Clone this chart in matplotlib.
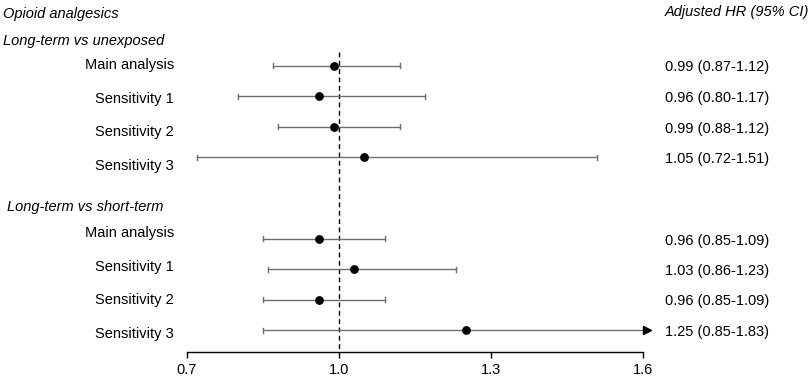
import matplotlib
matplotlib.use('Agg')
import matplotlib.pyplot as plt
import matplotlib.transforms as mtransforms
import numpy as np

plt.rcParams['font.family'] = ['Liberation Sans', 'DejaVu Sans']

# data ------------------------------------------------------------------ #
title_left  = 'Opioid analgesics'
title_right = 'Adjusted HR (95% CI)'
groups      = ['Long-term vs unexposed', 'Long-term vs short-term']
row_labels  = ['Main analysis', 'Sensitivity 1', 'Sensitivity 2', 'Sensitivity 3']

hr_unexp  = [0.99, 0.96, 0.99, 1.05]
lo_unexp  = [0.87, 0.80, 0.88, 0.72]
hi_unexp  = [1.12, 1.17, 1.12, 1.51]

hr_short  = [0.96, 1.03, 0.96, 1.25]
lo_short  = [0.85, 0.86, 0.85, 0.85]
hi_short  = [1.09, 1.23, 1.09, 1.83]

x_ticks = [0.7, 1.0, 1.3, 1.6]

# layout ---------------------------------------------------------------- #
W, H = 809, 378
fig = plt.figure(figsize=(W / 100, H / 100), dpi=100)

ax_left, ax_right, ax_bottom = 187, 643, 352
ax = fig.add_axes([ax_left / W, (H - ax_bottom) / H, (ax_right - ax_left) / W, ax_bottom / H])
ax.set_xlim(x_ticks[0], x_ticks[-1])
ax.set_ylim(ax_bottom, 0)  # y in pixels from top


def fx(px):
    return px / W


def fy(py):
    return 1 - py / H


step = 30.5             # spacing of the CI rows
label_step = 33.6       # spacing of the row labels on the left
group_start = [65.5, 238.5]
label_start = [65, 233]
group_head  = [41, 207]
hr_data = [(hr_unexp, lo_unexp, hi_unexp), (hr_short, lo_short, hi_short)]

line_col = '#6e6e6e'
fs = 10.5
xmax = x_ticks[-1]

# reference line
ax.plot([1.0, 1.0], [52, ax_bottom], color='black', lw=1.0, ls=(0, (3.5, 2.5)), zorder=1)

arrow_tr = ax.transData + mtransforms.ScaledTranslation(3.5 / 100, 0, fig.dpi_scale_trans)

for g, (hr, lo, hi) in enumerate(hr_data):
    fig.text(fx(3 if g == 0 else 7), fy(group_head[g]), groups[g], style='italic',
             fontsize=fs, ha='left', va='center')
    for i in range(len(hr)):
        y = group_start[g] + i * step
        right = min(hi[i], xmax)
        ax.plot([lo[i], right], [y, y], color=line_col, lw=1.0, zorder=2, clip_on=False)
        ax.plot([lo[i], lo[i]], [y - 2.5, y + 2.5], color=line_col, lw=1.0, zorder=2)
        if hi[i] <= xmax:
            ax.plot([hi[i], hi[i]], [y - 2.5, y + 2.5], color=line_col, lw=1.0, zorder=2)
        else:
            ax.plot([xmax], [y], marker='>', color='black', markersize=6,
                    transform=arrow_tr, clip_on=False, zorder=3)
        ax.plot([hr[i]], [y], 'o', color='black', markersize=5.3, zorder=4)
        fig.text(fx(174), fy(label_start[g] + i * label_step), row_labels[i],
                 fontsize=fs, ha='right', va='center')
        fig.text(fx(665), fy(y + 2), '{:.2f} ({:.2f}-{:.2f})'.format(hr[i], lo[i], hi[i]),
                 fontsize=fs, ha='left', va='center')

fig.text(fx(3), fy(14), title_left, style='italic', fontsize=fs, ha='left', va='center')
fig.text(fx(665), fy(12), title_right, style='italic', fontsize=fs, ha='left', va='center')

# axis
for side in ['left', 'right', 'top']:
    ax.spines[side].set_visible(False)
ax.spines['bottom'].set_bounds(x_ticks[0], x_ticks[-1])
ax.spines['bottom'].set_linewidth(1.0)
ax.set_xticks(x_ticks)
ax.set_xticklabels(['{:.1f}'.format(t) for t in x_ticks])
ax.tick_params(axis='x', length=4, width=1.0, pad=4, labelsize=fs)
ax.set_yticks([])
ax.patch.set_visible(False)

plt.savefig('out.png', dpi=100)
